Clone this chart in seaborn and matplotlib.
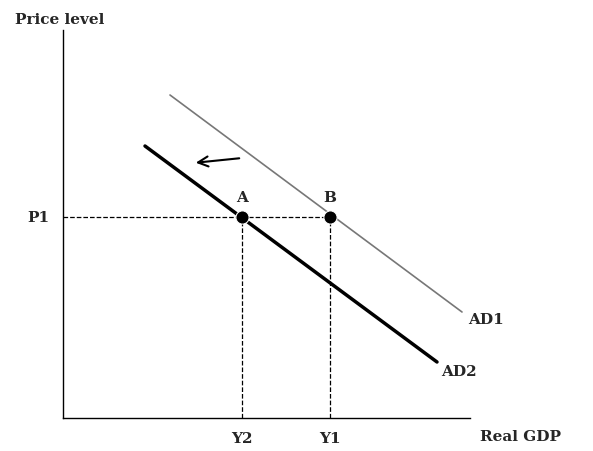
import matplotlib
matplotlib.use("Agg")
import matplotlib.pyplot as plt
import seaborn as sns
import pandas as pd

# coordinates in picture units (x right, y up)
ad1_x = [170, 462]
ad1_y = [356, 139]
ad2_x = [145, 437]
ad2_y = [305, 89]
point_names = ["A", "B"]
point_x = [242, 330]
point_y = [234, 234]
p1_level = 234
tick_names = ["Y2", "Y1"]

sns.set_style("white")
plt.rcParams['font.family'] = ['DejaVu Serif']

fig = plt.figure(figsize=(5.93, 4.51), dpi=100)
ax = fig.add_axes([63/593, 33/451, 407/593, 388/451])

sns.lineplot(x=ad1_x, y=ad1_y, ax=ax, color="#777777", linewidth=1.2)
sns.lineplot(x=ad2_x, y=ad2_y, ax=ax, color="black", linewidth=2.5)

# dashed guides
ax.plot([63, point_x[1]], [p1_level, p1_level], ls="--", color="black", lw=0.9)
for px in point_x:
    ax.plot([px, px], [33, p1_level], ls="--", color="black", lw=0.9)

pts = pd.DataFrame({"x": point_x, "y": point_y, "name": point_names})
sns.scatterplot(data=pts, x="x", y="y", ax=ax, color="black", s=90, zorder=5)
for _, r in pts.iterrows():
    ax.text(r.x, r.y + 12, r["name"], ha="center", va="bottom", fontsize=11, fontweight="bold")

ax.annotate("", xy=(193, 288), xytext=(242, 293),
            arrowprops=dict(arrowstyle="->", lw=1.5, color="black", mutation_scale=18))

ax.text(468, 131, "AD1", ha="left", va="center", fontsize=11, fontweight="bold")
ax.text(441, 79, "AD2", ha="left", va="center", fontsize=11, fontweight="bold")

ax.set_xlim(63, 470)
ax.set_ylim(33, 421)
ax.set_xticks(point_x)
ax.set_xticklabels(tick_names, fontsize=11, fontweight="bold")
ax.set_yticks([p1_level])
ax.set_yticklabels(["P1"], fontsize=11, fontweight="bold")
ax.tick_params(length=0, pad=10)
ax.set_xlabel("")
ax.set_ylabel("")
for side in ["top", "right"]:
    ax.spines[side].set_visible(False)
for side in ["left", "bottom"]:
    ax.spines[side].set_color("black")
    ax.spines[side].set_linewidth(1.0)

fig.text(15/593, 1 - 20/451, "Price level", ha="left", va="center", fontsize=11, fontweight="bold")
fig.text(480/593, 1 - 437/451, "Real GDP", ha="left", va="center", fontsize=11, fontweight="bold")

fig.savefig("out.png", dpi=100)
